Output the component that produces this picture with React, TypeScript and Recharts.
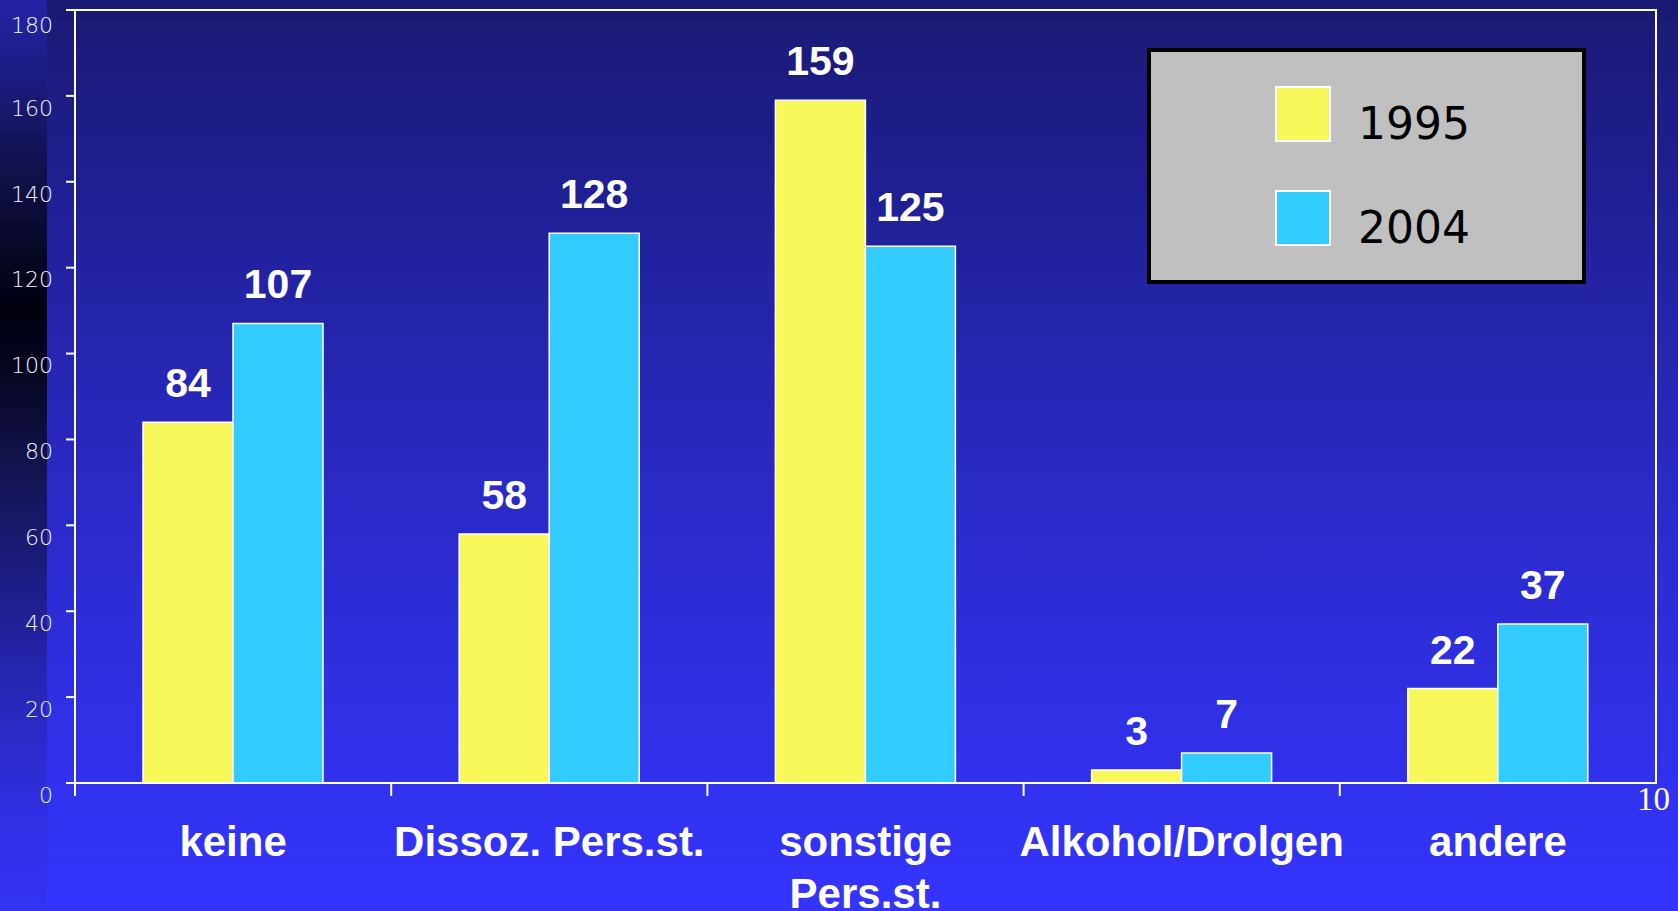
import { BarChart, Bar, XAxis, YAxis, Legend, LabelList, ReferenceArea } from 'recharts'

const categories = ['keine', 'Dissoz. Pers.st.', 'sonstige\nPers.st.', 'Alkohol/Drolgen', 'andere']
const values1995 = [84, 58, 159, 3, 22]
const values2004 = [107, 128, 125, 7, 37]
const yTicks = [0, 20, 40, 60, 80, 100, 120, 140, 160, 180]

const data = categories.map((name, i) => ({ name, y1995: values1995[i], y2004: values2004[i] }))

const W = 1678
const H = 911
const M = { top: 10, right: 22, bottom: 0, left: 8 }
const PLOT_W = W - M.left - M.right - 67
const BAND = PLOT_W / categories.length

const catFont = '"Liberation Sans", Arial, sans-serif'
const tickFont = '"DejaVu Sans", sans-serif'

// category label + boundary tick at the left edge of each band
function CategoryTick(props: any) {
  const { x, y, payload } = props
  const half = payload?.offset ?? BAND / 2
  const lines = String(payload.value).split('\n')
  return (
    <g>
      <line x1={x - half} x2={x - half} y1={y} y2={y + 13} stroke="#ffffff" strokeWidth={2} />
      {lines.map((l, i) => (
        <text
          key={i}
          x={x}
          y={y + 73 + i * 52}
          textAnchor="middle"
          fill="#ffffff"
          fontFamily={catFont}
          fontWeight="bold"
          fontSize={42}
        >
          {l}
        </text>
      ))}
    </g>
  )
}

function LegendBox(props: any) {
  const items = props.payload || []
  return (
    <div
      style={{
        width: 439,
        height: 236,
        boxSizing: 'border-box',
        background: '#c0c0c0',
        border: '4px solid #000000',
        position: 'relative',
      }}
    >
      {items.map((it: any, i: number) => (
        <div key={i} style={{ position: 'absolute', left: 124, top: 34 + i * 104, height: 56, display: 'flex' }}>
          <div
            style={{
              width: 52,
              height: 52,
              background: it.color,
              border: '2px solid #ffffff',
            }}
          />
          <span
            style={{
              position: 'absolute',
              left: 83,
              top: 12,
              fontFamily: tickFont,
              fontSize: 44,
              lineHeight: '52px',
              color: '#000000',
              whiteSpace: 'nowrap',
            }}
          >
            {it.value}
          </span>
        </div>
      ))}
    </div>
  )
}

export default function App() {
  return (
    <div
      style={{
        position: 'absolute',
        left: 0,
        top: 0,
        width: W,
        height: H,
        overflow: 'hidden',
        background: 'linear-gradient(to bottom, #1a1a74 0%, #1f1f92 20%, #2626b2 40%, #2c2cd2 62%, #3131ee 86%, #3434ff 100%)',
      }}
    >
      <div
        style={{
          position: 'absolute',
          left: 0,
          top: 0,
          width: 47,
          height: H,
          background:
            'linear-gradient(to bottom, #2424a8 0%, #1c1c84 8%, #12124e 18%, #080828 27%, #000010 34%, #060622 41%, #12124a 50%, #1a1a74 60%, #2222a0 70%, #2a2ac6 80%, #3030e6 90%, #3333f2 100%)',
        }}
      />
      <BarChart width={W} height={H} data={data} margin={M} barGap={0} barSize={90} style={{ position: 'absolute', left: 0, top: 0 }}>
        <ReferenceArea y1={0} y2={180} fill="none" stroke="#ffffff" strokeWidth={2} ifOverflow="visible" />
        <YAxis
          domain={[0, 180]}
          ticks={yTicks}
          width={67}
          axisLine={{ stroke: '#ffffff', strokeWidth: 2 }}
          tickLine={{ stroke: '#ffffff', strokeWidth: 2 }}
          tickSize={9}
          tickMargin={13}
          tick={{ fill: '#f4f4ff', fontSize: 22, fontFamily: tickFont, fontWeight: 300, dy: 12 }}
        />
        <XAxis
          dataKey="name"
          height={128}
          interval={0}
          axisLine={{ stroke: '#ffffff', strokeWidth: 2 }}
          tickLine={false}
          tickSize={0}
          tickMargin={0}
          tick={<CategoryTick />}
        />
        <Legend
          layout="horizontal"
          verticalAlign="middle"
          align="center"
          content={<LegendBox />}
          wrapperStyle={{ position: 'absolute', left: 1147, top: 48, width: 439, height: 236 }}
        />
        <Bar dataKey="y1995" name="1995" fill="#f8f85a" stroke="#ffffff" strokeWidth={1.5} isAnimationActive={false}>
          <LabelList dataKey="y1995" position="top" offset={25} fill="#ffffff" fontSize={41} fontWeight="bold" fontFamily={catFont} />
        </Bar>
        <Bar dataKey="y2004" name="2004" fill="#33ccff" stroke="#ffffff" strokeWidth={1.5} isAnimationActive={false}>
          <LabelList dataKey="y2004" position="top" offset={25} fill="#ffffff" fontSize={41} fontWeight="bold" fontFamily={catFont} />
        </Bar>
      </BarChart>
      <svg width={W} height={H} style={{ position: 'absolute', left: 0, top: 0, pointerEvents: 'none' }}>
        <text x={1637} y={810} fill="#ffffff" fontFamily='"Liberation Serif", "Times New Roman", serif' fontSize={33}>
          10
        </text>
      </svg>
    </div>
  )
}
